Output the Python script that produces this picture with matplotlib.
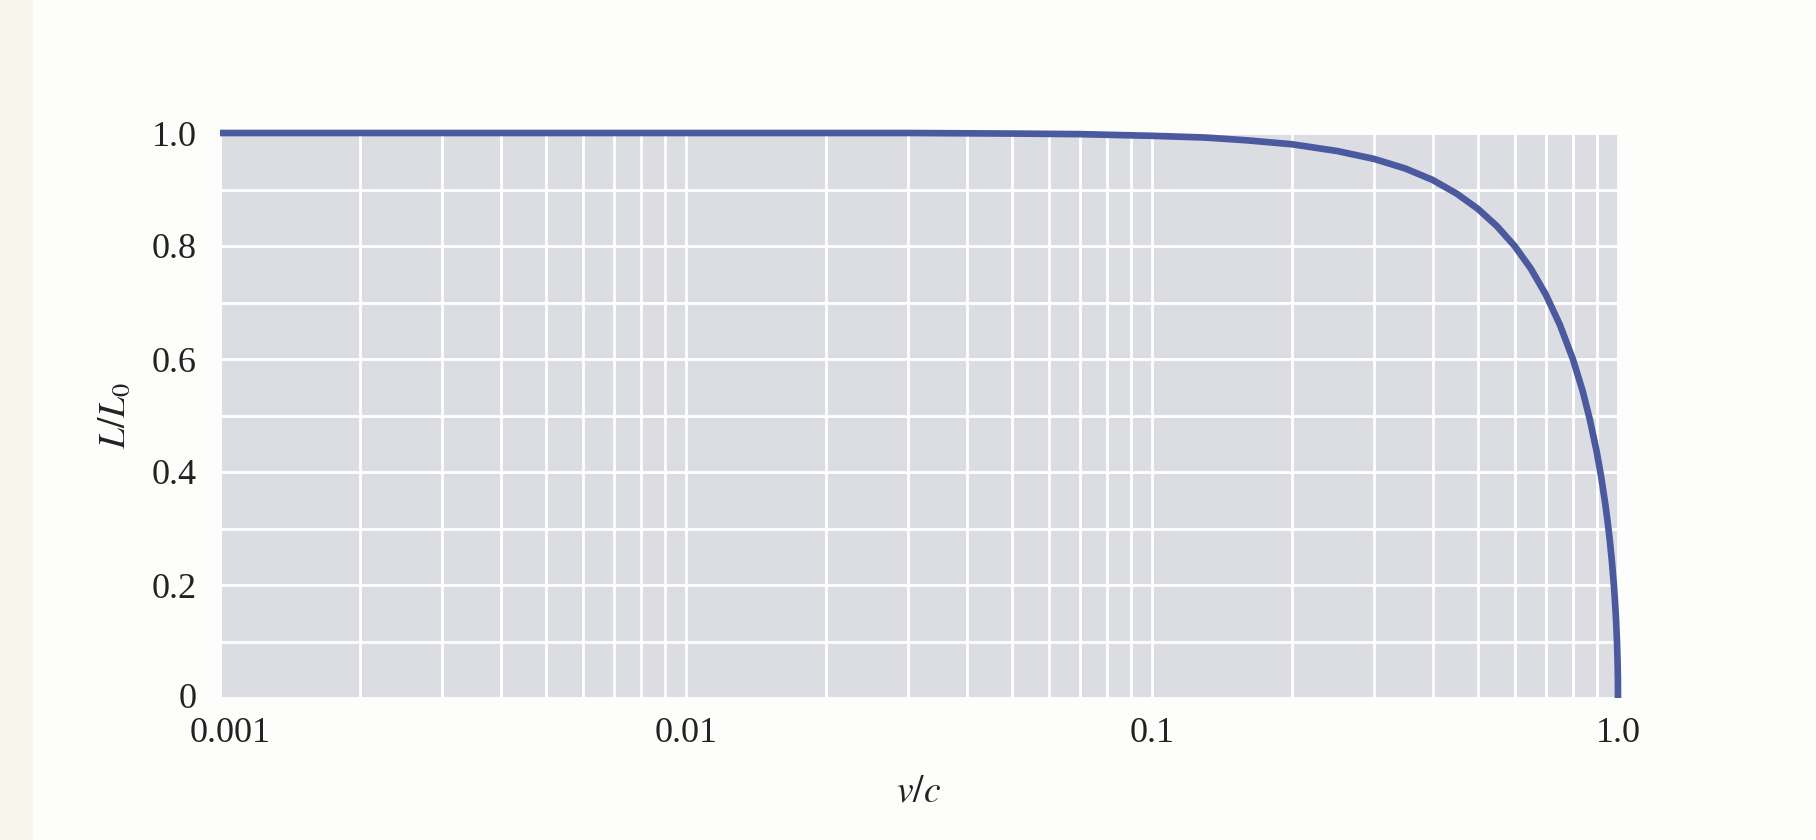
import matplotlib
matplotlib.use('Agg')
import matplotlib.pyplot as plt
from matplotlib.patches import Rectangle
from matplotlib.ticker import FixedLocator, NullFormatter
from matplotlib.transforms import ScaledTranslation

# Valores (v/c frente a L/L0)
speed = [0.001, 0.01, 0.03, 0.05, 0.07, 0.1, 0.13, 0.16, 0.2, 0.25, 0.3, 0.35,
         0.4, 0.45, 0.5, 0.55, 0.6, 0.65, 0.7, 0.75, 0.8, 0.84, 0.87, 0.9,
         0.92, 0.94, 0.95, 0.96, 0.97, 0.98, 0.985, 0.99, 0.995, 0.998, 0.9995, 1.0]
length = [1.0, 1.0, 1.0, 0.999, 0.998, 0.995, 0.992, 0.987, 0.98, 0.968, 0.954, 0.937,
          0.917, 0.893, 0.866, 0.835, 0.80, 0.76, 0.714, 0.661, 0.60, 0.543, 0.493, 0.436,
          0.392, 0.341, 0.312, 0.280, 0.243, 0.199, 0.172, 0.141, 0.10, 0.063, 0.032, 0.0]

x_ticks = [0.001, 0.01, 0.1, 1.0]
x_labels = ['0.001', '0.01', '0.1', '1.0']
y_ticks = [0, 0.2, 0.4, 0.6, 0.8, 1.0]
y_labels = ['0', '0.2', '0.4', '0.6', '0.8', '1.0']

plt.rcParams['font.family'] = ['Liberation Serif', 'DejaVu Serif']
plt.rcParams['mathtext.fontset'] = 'stix'

fig = plt.figure(figsize=(18.16, 8.4), dpi=100)
fig.patch.set_facecolor('#fdfdfb')
# franja amarillenta del escaneo a la izquierda
fig.patches.append(Rectangle((0, 0), 0.018, 1, transform=fig.transFigure,
                             facecolor='#f7f6ec', edgecolor='none', zorder=0))

ax = fig.add_axes([220/1816, 1 - 698/840, (1618-220)/1816, (698-133)/840])
ax.set_facecolor('#dbdde2')
ax.set_xscale('log')
ax.set_xlim(0.001, 1.0)
ax.set_ylim(0, 1.0)

ax.plot(speed, length, color='#4b5a9e', lw=4.8, solid_capstyle='butt',
        solid_joinstyle='round', clip_on=False, zorder=3)

# rejilla blanca
minor_x = [m * 10.0**e for e in (-3, -2, -1) for m in range(2, 10)]
ax.xaxis.set_minor_locator(FixedLocator(minor_x))
ax.xaxis.set_minor_formatter(NullFormatter())
ax.yaxis.set_minor_locator(FixedLocator([0.1, 0.3, 0.5, 0.7, 0.9]))
ax.grid(True, which='both', color='white', lw=2.0)
ax.set_axisbelow(True)

ax.set_xticks(x_ticks)
ax.set_xticklabels(x_labels)
ax.set_yticks(y_ticks)
ax.set_yticklabels(y_labels)
ax.tick_params(which='both', length=0, labelsize=26, colors='#222222')
ax.tick_params(axis='x', pad=14)
ax.tick_params(axis='y', pad=16.5)
for s in ax.spines.values():
    s.set_visible(False)

# pequeños desplazamientos como en el original
first = ax.get_xticklabels()[0]
first.set_transform(first.get_transform() + ScaledTranslation(10/100, 0, fig.dpi_scale_trans))
zero = ax.get_yticklabels()[0]
zero.set_transform(zero.get_transform() + ScaledTranslation(0, 3/100, fig.dpi_scale_trans))

ax.set_xlabel(r'$v/c$', fontsize=27, color='#222222', labelpad=18)
ax.set_ylabel(r'$L/L_0$', fontsize=27, color='#222222', labelpad=14)

fig.savefig('out.png', dpi=100, facecolor=fig.get_facecolor())
